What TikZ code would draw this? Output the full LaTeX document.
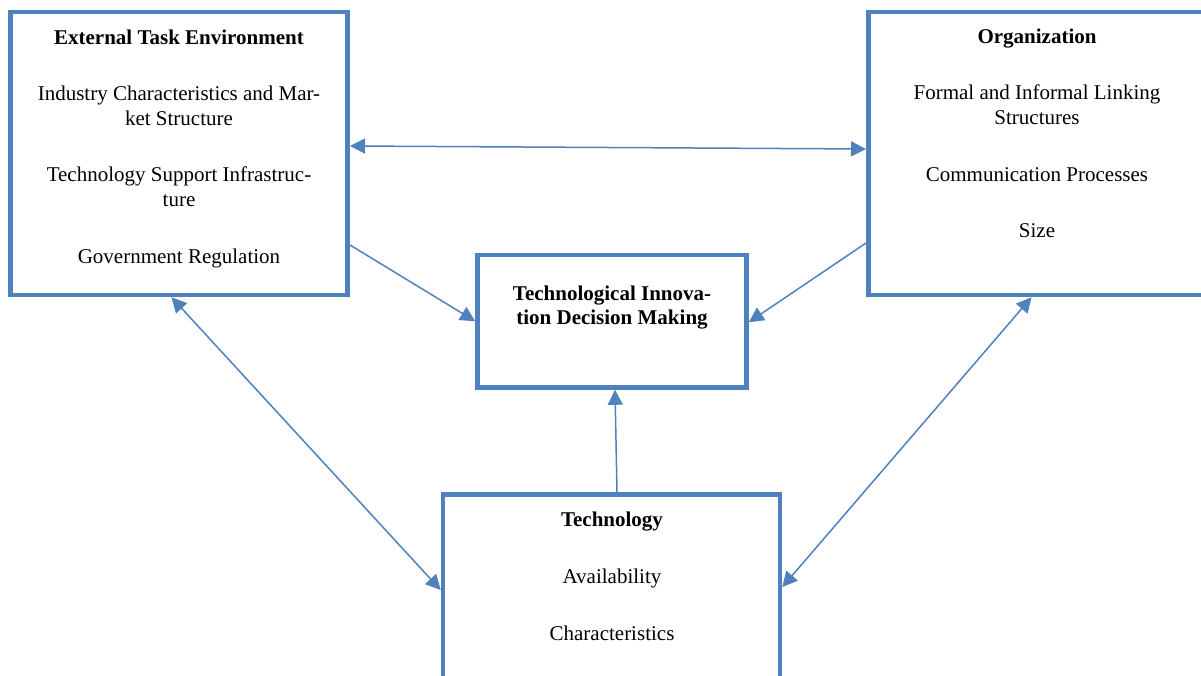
\documentclass[tikz,border=0pt]{standalone}
\usepackage{fontspec}
\setmainfont{Liberation Serif}
\usetikzlibrary{arrows.meta}
\definecolor{boxblue}{HTML}{4F81BD}
\tikzset{
  panel/.style={draw=boxblue, line width=4.6pt, fill=white, rectangle, inner sep=0pt},
  txt/.style={anchor=base, inner sep=0pt, font=\fontsize{21}{25}\selectfont},
  ttl/.style={txt, font=\fontsize{21}{25}\selectfont\bfseries},
  link/.style={draw=boxblue, line width=1.5pt, -{Triangle[length=15pt,width=15pt]}},
  dlink/.style={draw=boxblue, line width=1.5pt, {Triangle[length=15pt,width=15pt]}-{Triangle[length=15pt,width=15pt]}}
}
\begin{document}
\begin{tikzpicture}[x=1pt,y=1pt]
\clip (0,0) rectangle (1201,675);
\fill[white] (0,0) rectangle (1201,675);

% boxes
\node[panel, minimum width=337.4pt, minimum height=283pt] (ext) at (179,521.5) {};
\node[panel, minimum width=337.4pt, minimum height=283pt] (org) at (1037,521.5) {};
\node[panel, minimum width=269pt, minimum height=132.5pt] (tidm) at (612,353.75) {};
\node[panel, minimum width=337pt, minimum height=283pt] (tech) at (611.5,39) {};

% External Task Environment text
\node[ttl] (e0) at (179,630) {External Task Environment};
\node[txt] (e1) at (179,574) {Industry Characteristics and Mar-};
\node[txt] (e2) at (179,549) {ket Structure};
\node[txt] (e3) at (179,493) {Technology Support Infrastruc-};
\node[txt] (e4) at (179,468) {ture};
\node[txt] (e5) at (179,411) {Government Regulation};

% Organization text
\node[ttl] (o0) at (1037,631) {Organization};
\node[txt] (o1) at (1037,575) {Formal and Informal Linking};
\node[txt] (o2) at (1037,550) {Structures};
\node[txt] (o3) at (1037,493) {Communication Processes};
\node[txt] (o4) at (1037,437) {Size};

% TIDM text
\node[ttl] (t0) at (612,374.3) {Technological Innova-};
\node[ttl] (t1) at (612,350) {tion Decision Making};

% Technology text
\node[ttl] (g0) at (612,148.3) {Technology};
\node[txt] (g1) at (612,92) {Availability};
\node[txt] (g2) at (612,35) {Characteristics};

% connectors
\draw[dlink] ([yshift=7.5pt]ext.east) -- ([yshift=4.5pt]org.west);
\draw[link] ([yshift=-91.5pt]ext.east) -- (tidm.west);
\draw[link] ([yshift=-89.5pt]org.west) -- ([yshift=-1pt]tidm.east);
\draw[link] ([xshift=5.5pt]tech.north) -- ([xshift=3pt]tidm.south);
\draw[dlink] ([xshift=-7.5pt]ext.south) -- ([yshift=46pt]tech.west);
\draw[dlink] ([xshift=-5.5pt]org.south) -- ([yshift=49pt]tech.east);
\end{tikzpicture}
\end{document}
